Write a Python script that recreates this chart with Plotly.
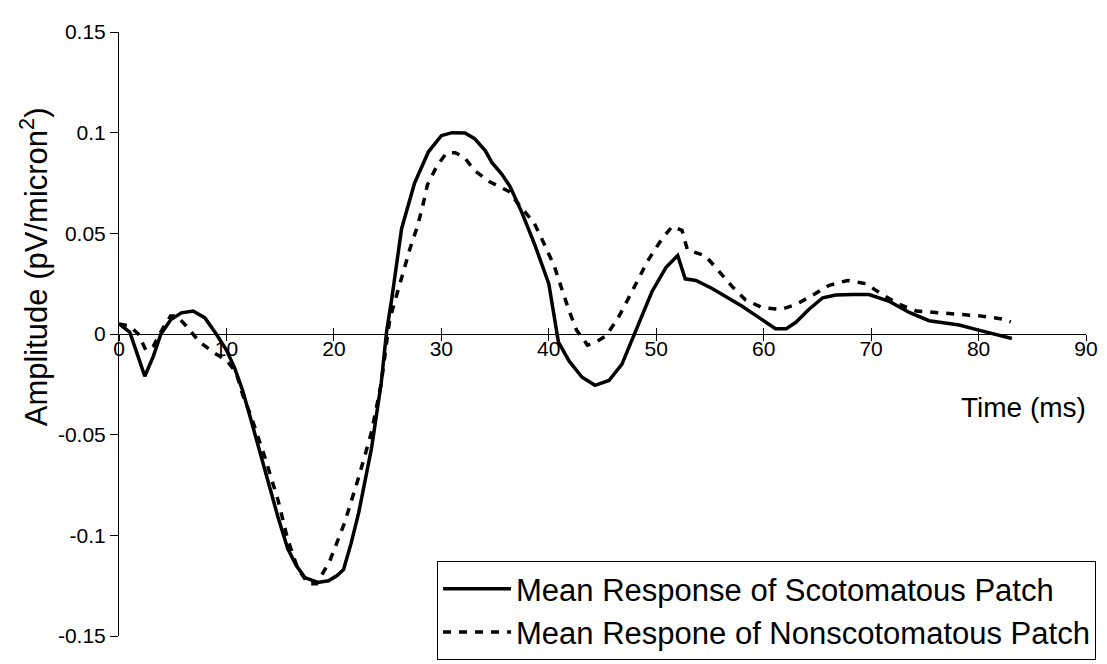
import plotly.graph_objects as go

# Time (ms) and amplitude (pV/micron^2)
scot_t = [0, 1.0, 1.7, 2.4, 3.2, 3.9, 4.8, 5.8, 6.9, 8.0, 9.05, 10.0, 10.75, 11.5, 12.3, 13.1, 13.9,
          14.8, 15.7, 16.5, 17.3, 18.5, 19.5, 20.3, 20.9, 21.6, 22.3, 23.5, 24.4, 24.9, 25.4,
          26.3, 27.5, 28.8, 30.0, 31.0, 32.2, 33.1, 34.1, 34.7, 35.6, 36.4, 37.5, 38.7, 40.0,
          40.6, 40.9, 41.9, 43.1, 44.3, 45.6, 46.8, 47.8, 48.7, 49.6, 50.9, 52.0, 52.7, 53.7,
          55.2, 58.0, 61.1, 62.1, 63.0, 64.2, 65.5, 66.7, 68.3, 69.8, 71.7, 73.6, 75.4, 77.3,
          78.2, 80.1, 81.5, 83.1]
scot_v = [0.005, 0.001, -0.010, -0.021, -0.011, 0.000, 0.007, 0.0105, 0.0114, 0.008, 0.000, -0.008,
          -0.0167, -0.028, -0.043, -0.058, -0.0745, -0.091, -0.1066, -0.115, -0.121, -0.1234,
          -0.1226, -0.120, -0.117, -0.104, -0.089, -0.0568, -0.0246, 0.001, 0.018,
          0.0523, 0.0748, 0.0905, 0.0985, 0.1000, 0.0998, 0.097, 0.0910, 0.0852, 0.0796, 0.0732,
          0.0603, 0.0443, 0.0250, 0.0058, -0.004, -0.0135, -0.0215, -0.0255, -0.0231, -0.0151,
          -0.0022, 0.009, 0.021, 0.033, 0.0390, 0.0274, 0.0266, 0.0226, 0.0138, 0.0026, 0.0026,
          0.0058, 0.0122, 0.018, 0.0194, 0.0196, 0.0196, 0.0162, 0.0106, 0.0066, 0.005,
          0.0045, 0.0018, 0.000, -0.0022]

nonscot_t = [0, 1.0, 1.8, 2.5, 3.2, 4.0, 4.8, 5.4, 6.25, 7.5, 8.9, 10.0, 10.9, 11.5, 12.3, 13.6,
             14.8, 15.7, 16.6, 17.6, 18.4, 19.6, 21.0, 22.3, 23.5, 24.4, 25.2, 25.8, 26.5, 27.1,
             27.7, 28.2, 28.7, 29.6, 30.5, 31.3, 32.1, 33.1, 34.5, 36.3, 37.3, 38.6, 39.4, 40.5,
             41.2, 41.9, 42.6, 43.6, 44.4, 45.3, 46.4, 47.3, 48.2, 49.2, 50.5, 51.5, 52.4, 52.9,
             54.6, 55.8, 57.1, 58.3, 59.9, 61.6, 63.0, 64.6, 66.1, 67.8, 69.5, 71.1, 72.5, 74.2,
             75.9, 77.5, 80.1, 82.3, 83.0]
nonscot_v = [0.005, 0.004, 0.000, -0.008, -0.006, 0.002, 0.009, 0.009, 0.004, -0.004, -0.0095,
             -0.013, -0.019, -0.030, -0.041, -0.0616, -0.0825, -0.102, -0.116, -0.124, -0.124,
             -0.113, -0.0937, -0.0713, -0.0488, -0.0247, 0.0074, 0.0186, 0.0307, 0.0427, 0.0523,
             0.062, 0.074, 0.0836, 0.0900, 0.0900, 0.088, 0.0812, 0.0756, 0.0708, 0.0636, 0.0555,
             0.0467, 0.0339, 0.0226, 0.0114, 0.0018, -0.0055, -0.004, -0.001, 0.0074, 0.0162,
             0.0258, 0.0363, 0.047, 0.0535, 0.0515, 0.0419, 0.0387, 0.0314, 0.0234, 0.017, 0.013,
             0.0122, 0.0146, 0.0194, 0.0242, 0.0266, 0.025, 0.0194, 0.015, 0.0114, 0.0106, 0.0098,
             0.009, 0.0074, 0.006]

x_ticks = [0, 10, 20, 30, 40, 50, 60, 70, 80, 90]
y_ticks = [-0.15, -0.1, -0.05, 0, 0.05, 0.1, 0.15]
y_ticklabels = ["-0.15", "-0.1", "-0.05", "0", "0.05", "0.1", "0.15"]

FONT = "Arial, Liberation Sans, sans-serif"

fig = go.Figure()
fig.add_trace(go.Scatter(x=scot_t, y=scot_v, mode="lines",
                         name="Mean Response of Scotomatous Patch",
                         line=dict(color="black", width=3.5), legendgroup="a"))
fig.add_trace(go.Scatter(x=nonscot_t, y=nonscot_v, mode="lines",
                         name="Mean Respone of Nonscotomatous Patch",
                         line=dict(color="black", width=3.5, dash="8px,8px"), legendgroup="b"))
# invisible trace to host the second (upper-tick) x axis
fig.add_trace(go.Scatter(x=[0, 90], y=[0, 0], xaxis="x2", mode="lines",
                         line=dict(width=0), showlegend=False, hoverinfo="skip"))

fig.update_layout(
    width=1107, height=664,
    margin=dict(l=111, r=29, t=13, b=23),
    paper_bgcolor="white", plot_bgcolor="white",
    font=dict(family=FONT, color="black", size=21),
    xaxis=dict(range=[0, 90], tickvals=x_ticks, ticks="outside", ticklen=6,
               tickcolor="black", tickwidth=1, showline=True, linecolor="black",
               linewidth=1, showgrid=False, zeroline=False, anchor="free", position=0.5,
               tickfont=dict(size=21, family=FONT), ticklabelstandoff=-10,
               ticklabeloverflow="allow"),
    xaxis2=dict(range=[0, 90], tickvals=x_ticks, ticks="inside", ticklen=6,
                tickcolor="black", tickwidth=1, showline=False, showgrid=False,
                zeroline=False, showticklabels=False, overlaying="x", anchor="free",
                position=0.5),
    yaxis=dict(range=[-0.15, 0.15], tickvals=y_ticks, ticktext=y_ticklabels,
               ticks="outside", ticklen=8, tickcolor="black", tickwidth=1,
               showline=True, linecolor="black", linewidth=1, showgrid=False,
               zeroline=False, tickfont=dict(size=21, family=FONT), domain=[0, 1],
               ticklabeloverflow="allow"),
    legend=dict(x=0.3289, y=0.124, xanchor="left", yanchor="top",
                bordercolor="black", borderwidth=1, bgcolor="white",
                font=dict(size=31, family=FONT), traceorder="grouped",
                tracegroupgap=0, itemwidth=68),
    showlegend=True,
    annotations=[
        dict(text="Amplitude (pV/micron<sup>2</sup>)", xref="paper", yref="paper",
             x=-0.088, y=0.612, xanchor="center", yanchor="middle", textangle=-90,
             showarrow=False, font=dict(size=31, family=FONT)),
        dict(text="Time (ms)", xref="paper", yref="paper", x=1.002, y=0.378,
             xanchor="right", yanchor="middle", showarrow=False,
             font=dict(size=28, family=FONT)),
    ],
)

fig.write_html("out.html")
